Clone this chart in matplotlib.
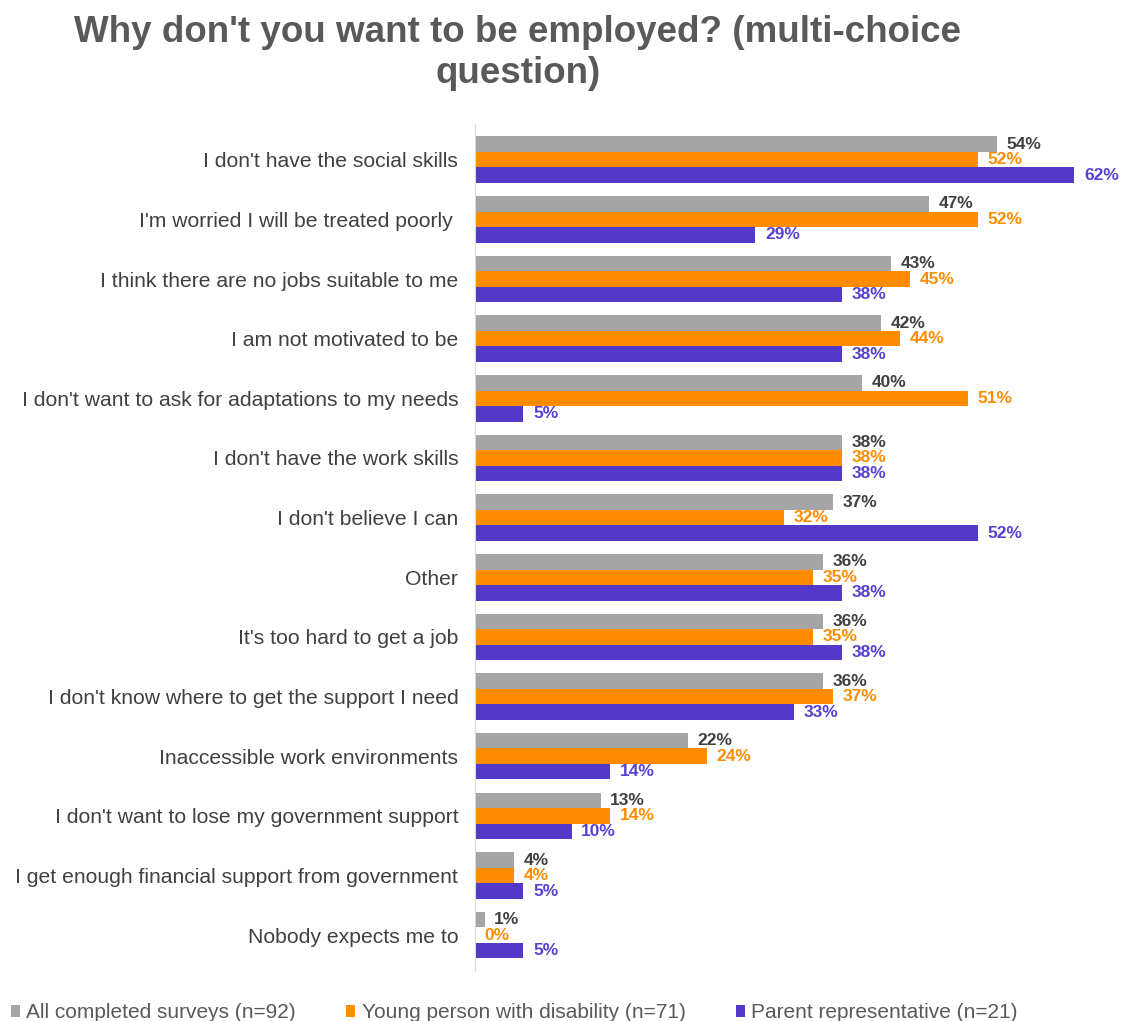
import numpy as np
import matplotlib
matplotlib.use("Agg")
import matplotlib.pyplot as plt

plt.rcParams['font.family'] = ['Liberation Sans', 'DejaVu Sans']

categories = [
    "I don't have the social skills",
    "I'm worried I will be treated poorly ",
    "I think there are no jobs suitable to me",
    "I am not motivated to be",
    "I don't want to ask for adaptations to my needs",
    "I don't have the work skills",
    "I don't believe I can",
    "Other",
    "It's too hard to get a job",
    "I don't know where to get the support I need",
    "Inaccessible work environments",
    "I don't want to lose my government support",
    "I get enough financial support from government",
    "Nobody expects me to",
]
all_surveys = [54, 47, 43, 42, 40, 38, 37, 36, 36, 36, 22, 13, 4, 1]
young_person = [52, 52, 45, 44, 51, 38, 32, 35, 35, 37, 24, 14, 4, 0]
parent_rep = [62, 29, 38, 38, 5, 38, 52, 38, 38, 33, 14, 10, 5, 5]

series_names = ["All completed surveys (n=92)",
                "Young person with disability (n=71)",
                "Parent representative (n=21)"]
bar_colors = ["#A5A5A5", "#FF8C00", "#5438C8"]
text_colors = ["#404040", "#FF8C00", "#5A40D0"]

fig = plt.figure(figsize=(11.26, 10.21), dpi=100)
ax = fig.add_axes([0.4218, 0.049, 0.558, 0.8296])

y = np.arange(len(categories))
h = 0.26
offsets = [-h, 0, h]
for vals, off, name, bc, tc in zip([all_surveys, young_person, parent_rep],
                                   offsets, series_names, bar_colors, text_colors):
    bars = ax.barh(y + off, vals, height=h, color=bc, label=name)
    for b, v in zip(bars, vals):
        ax.annotate(f"{v}%", (b.get_width(), b.get_y() + b.get_height() / 2),
                    xytext=(7, 0), textcoords="offset points",
                    ha="left", va="center", fontsize=12.5, fontweight="bold",
                    color=tc)

ax.set_xlim(0, 65)
ax.set_ylim(len(categories) - 0.4, -0.6)
ax.set_yticks(y)
ax.set_yticklabels(categories, fontsize=15.2, color="#404040")
ax.tick_params(axis='y', length=0, pad=12)
ax.set_xticks([])
for s in ["top", "right", "bottom"]:
    ax.spines[s].set_visible(False)
ax.spines["left"].set_color("#D9D9D9")

fig.suptitle("Why don't you want to be employed? (multi-choice\nquestion)",
             x=0.46, y=0.985, fontsize=26.5, fontweight="bold", color="#595959",
             linespacing=1.2)

fig.legend(loc="center left", bbox_to_anchor=(-0.007, 0.008), ncol=3, frameon=False,
           fontsize=15, handlelength=0.45, handleheight=0.45, handletextpad=0.3,
           columnspacing=2.4, labelcolor="#595959")

fig.savefig("out.png", dpi=100, facecolor="white")
